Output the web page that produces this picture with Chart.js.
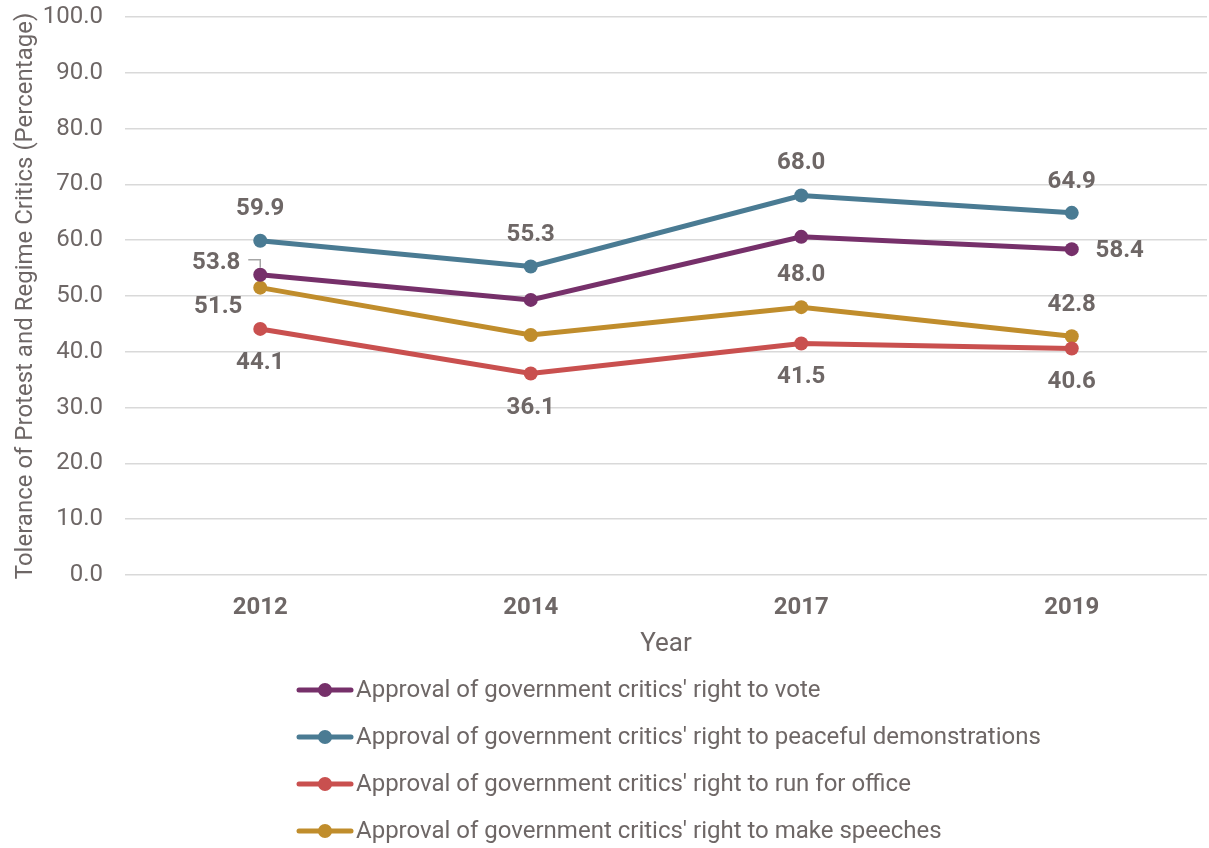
<!DOCTYPE html>
<html>
<head>
<meta charset="utf-8">
<script src="https://cdn.jsdelivr.net/npm/chart.js@4.4.1/dist/chart.umd.min.js"></script>
<style>
  html, body { margin: 0; padding: 0; background: #fff; overflow: hidden; }
  #wrap { width: 1214px; height: 848px; }
</style>
</head>
<body>
<div id="wrap"><canvas id="tolerance-chart"></canvas></div>
<script>
const years = ["2012", "2014", "2017", "2019"];
const rightToVote = [53.8, 49.3, 60.6, 58.4];
const peacefulDemonstrations = [59.9, 55.3, 68.0, 64.9];
const runForOffice = [44.1, 36.1, 41.5, 40.6];
const makeSpeeches = [51.5, 43.0, 48.0, 42.8];
const yTicks = [0, 10, 20, 30, 40, 50, 60, 70, 80, 90, 100];

const textColor = "#6e6766";

// where each value label sits relative to its point (null = no label)
const labelPlacement = [
  [{ dx: -44, dy: -12, leader: true }, null, null, { dx: 48, dy: 2 }],
  [{ dx: 0, dy: -32 }, { dx: 0, dy: -31 }, { dx: 0, dy: -33 }, { dx: 0, dy: -31 }],
  [{ dx: 0, dy: 34 }, { dx: 0, dy: 34 }, { dx: 0, dy: 34 }, { dx: 0, dy: 34 }],
  [{ dx: -42, dy: 19 }, null, { dx: 0, dy: -32 }, { dx: 0, dy: -31 }]
];

const valueLabels = {
  id: "valueLabels",
  afterDatasetsDraw(chart) {
    const ctx = chart.ctx;
    ctx.save();
    ctx.font = "bold 24px Roboto";
    ctx.fillStyle = textColor;
    ctx.textAlign = "center";
    ctx.textBaseline = "middle";
    chart.data.datasets.forEach((ds, i) => {
      const meta = chart.getDatasetMeta(i);
      meta.data.forEach((pt, j) => {
        const p = labelPlacement[i][j];
        if (!p) return;
        ctx.fillText(ds.data[j].toFixed(1), pt.x + p.dx, pt.y + p.dy);
        if (p.leader) {
          ctx.strokeStyle = "#a6a6a6";
          ctx.lineWidth = 1.5;
          ctx.beginPath();
          ctx.moveTo(pt.x - 12, pt.y - 15);
          ctx.lineTo(pt.x, pt.y - 15);
          ctx.lineTo(pt.x, pt.y - 7);
          ctx.stroke();
        }
      });
    });
    ctx.restore();
  }
};

const bottomLegend = {
  id: "bottomLegend",
  afterDraw(chart) {
    const ctx = chart.ctx;
    ctx.save();
    ctx.font = "24px Roboto";
    ctx.textBaseline = "middle";
    ctx.textAlign = "left";
    chart.data.datasets.forEach((ds, i) => {
      const y = 690 + i * 47;
      ctx.strokeStyle = ds.borderColor;
      ctx.lineWidth = 5;
      ctx.lineCap = "round";
      ctx.beginPath();
      ctx.moveTo(299, y);
      ctx.lineTo(351, y);
      ctx.stroke();
      ctx.fillStyle = ds.borderColor;
      ctx.beginPath();
      ctx.arc(325, y, 7, 0, Math.PI * 2);
      ctx.fill();
      ctx.fillStyle = textColor;
      ctx.fillText(ds.label, 356, y + 1);
    });
    ctx.restore();
  }
};

function series(label, data, color) {
  return {
    label: label,
    data: data,
    borderColor: color,
    backgroundColor: color,
    borderWidth: 5,
    pointRadius: 7,
    pointHoverRadius: 7,
    pointBorderWidth: 0,
    tension: 0
  };
}

new Chart("tolerance-chart", {
  type: "line",
  data: {
    labels: years,
    datasets: [
      series("Approval of government critics' right to vote", rightToVote, "#76306a"),
      series("Approval of government critics' right to peaceful demonstrations", peacefulDemonstrations, "#4a7b93"),
      series("Approval of government critics' right to run for office", runForOffice, "#c9504f"),
      series("Approval of government critics' right to make speeches", makeSpeeches, "#c08d2c")
    ]
  },
  options: {
    responsive: true,
    maintainAspectRatio: false,
    animation: false,
    events: [],
    layout: { padding: { top: 17, right: 0, bottom: 188, left: 0 } },
    plugins: {
      legend: { display: false },
      tooltip: { enabled: false }
    },
    scales: {
      x: {
        offset: true,
        grid: { display: false, drawTicks: false },
        border: { display: false },
        ticks: { color: textColor, font: { family: "Roboto", size: 24, weight: "bold" }, padding: 19 },
        title: { display: true, text: "Year", color: textColor, font: { family: "Roboto", size: 26 }, padding: { top: 0, bottom: 0 } },
        afterFit(scale) { scale.height = 85; scale.paddingLeft = 0; scale.paddingRight = 0; }
      },
      y: {
        min: 0,
        max: 100,
        afterBuildTicks(scale) { scale.ticks = yTicks.map(v => ({ value: v })); },
        grid: { color: "#d9d9d9", lineWidth: 1.5, drawTicks: false },
        border: { display: false },
        ticks: {
          color: textColor,
          font: { family: "Roboto", size: 24 },
          padding: 22,
          callback: v => v.toFixed(1)
        },
        title: { display: true, text: "Tolerance of Protest and Regime Critics (Percentage)", color: textColor, font: { family: "Roboto", size: 24 }, padding: { top: 12, bottom: 0 } },
        afterFit(scale) { scale.width = 125; scale.paddingTop = 0; scale.paddingBottom = 0; }
      }
    }
  },
  plugins: [valueLabels, bottomLegend]
});
</script>
</body>
</html>
